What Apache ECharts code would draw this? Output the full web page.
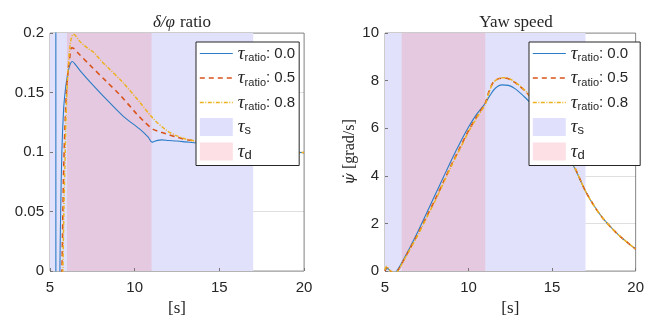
<!DOCTYPE html>
<html><head><meta charset="utf-8">
<script src="https://cdn.jsdelivr.net/npm/echarts@6/dist/echarts.min.js"></script>
<style>html,body{margin:0;padding:0;background:#fff}#c{width:647px;height:322px}</style>
</head><body><div id="c"></div>
<script>
// ---- data: left panel (delta/phi ratio) ----
const ratioT0 = [5.0, 5.2, 5.33, 5.36, 5.45, 5.55, 5.6, 5.63, 5.7, 5.8, 5.89, 6.0, 6.15, 6.32, 6.5, 6.8, 7.36, 8.35, 9.33, 10.32, 10.8, 11.02, 11.15, 11.35, 11.6, 12.0, 12.5, 13.0, 13.5, 14.0, 15.0, 16.0, 17.0, 18.0, 19.0, 20.0];
const ratioV0 = [0.35, 0.6, 2.0, -2.0, -0.3, -0.05, 0.02, 0.05, 0.10, 0.135, 0.15, 0.162, 0.172, 0.176, 0.1735, 0.168, 0.159, 0.144, 0.130, 0.119, 0.1125, 0.1083, 0.1088, 0.1098, 0.1102, 0.1097, 0.1092, 0.1085, 0.1078, 0.107, 0.105, 0.103, 0.1015, 0.1005, 0.1, 0.0995];
const ratioT5 = [5.0, 5.5, 5.65, 5.7, 5.74, 5.8, 5.88, 5.97, 6.08, 6.18, 6.28, 6.4, 6.67, 7.36, 8.35, 9.13, 10.12, 10.6, 11.1, 11.5, 11.9, 12.5, 13.0, 13.5, 14.0, 15.0, 16.0, 17.0, 18.0, 19.0, 20.0];
const ratioV5 = [-0.6, -0.4, -0.08, -0.01, 0.03, 0.08, 0.12, 0.15, 0.17, 0.181, 0.1876, 0.187, 0.183, 0.173, 0.159, 0.148, 0.132, 0.125, 0.119, 0.117, 0.115, 0.1125, 0.1105, 0.1095, 0.108, 0.1055, 0.1035, 0.1015, 0.1005, 0.1, 0.0995];
const ratioT8 = [5.0, 5.55, 5.7, 5.76, 5.82, 5.9, 5.97, 6.05, 6.15, 6.25, 6.38, 6.5, 6.7, 6.97, 7.3, 7.56, 8.0, 8.35, 9.33, 10.32, 11.1, 11.9, 12.5, 13.0, 13.5, 14.0, 15.0, 16.0, 17.0, 18.0, 19.0, 20.0];
const ratioV8 = [-0.6, -0.4, -0.06, 0.0, 0.05, 0.1, 0.14, 0.165, 0.185, 0.195, 0.199, 0.198, 0.194, 0.19, 0.1865, 0.184, 0.177, 0.172, 0.158, 0.1415, 0.128, 0.118, 0.1135, 0.111, 0.1095, 0.108, 0.1055, 0.1035, 0.1015, 0.1005, 0.1, 0.0995];

// ---- data: right panel (yaw speed) ----
const yawT0 = [5.0, 5.15, 5.3, 5.45, 5.6, 5.75, 6.0, 6.5, 7.0, 7.5, 8.0, 8.5, 9.0, 9.5, 10.0, 10.5, 11.0, 11.3, 11.6, 12.0, 12.4, 12.8, 13.4, 14.0, 14.5, 15.0, 15.5, 16.0, 16.4, 17.0, 17.5, 18.0, 18.5, 19.0, 19.5, 20.0];
const yawV0 = [0.05, 0.1, 0.02, -0.08, -0.08, 0.05, 0.35, 1.0, 1.7, 2.45, 3.2, 3.95, 4.7, 5.4, 6.05, 6.6, 7.05, 7.4, 7.68, 7.82, 7.8, 7.65, 7.28, 6.85, 6.4, 5.9, 5.3, 4.75, 4.25, 3.35, 2.75, 2.25, 1.85, 1.5, 1.2, 0.92];
const yawT5 = [5.0, 5.1, 5.25, 5.45, 5.6, 5.8, 6.0, 6.5, 7.0, 7.5, 8.0, 8.5, 9.0, 9.5, 10.0, 10.5, 11.0, 11.2, 11.45, 11.7, 12.0, 12.25, 12.6, 13.0, 13.4, 14.0, 14.5, 15.0, 15.5, 16.0, 16.4, 17.0, 17.5, 18.0, 18.5, 19.0, 19.5, 20.0];
const yawV5 = [0.0, 0.15, 0.05, -0.08, -0.1, 0.05, 0.3, 0.95, 1.6, 2.3, 3.0, 3.75, 4.5, 5.2, 5.9, 6.5, 7.05, 7.5, 7.9, 8.05, 8.1, 8.1, 8.0, 7.8, 7.55, 7.05, 6.55, 6.0, 5.4, 4.8, 4.28, 3.35, 2.75, 2.25, 1.85, 1.5, 1.2, 0.92];
const yawT8 = yawT5;
const yawV8 = [0.05, 0.2, 0.05, -0.05, -0.1, 0.03, 0.28, 0.92, 1.55, 2.25, 2.95, 3.7, 4.45, 5.15, 5.85, 6.45, 7.0, 7.45, 7.88, 8.05, 8.12, 8.12, 8.02, 7.82, 7.57, 7.07, 6.55, 6.0, 5.4, 4.8, 4.28, 3.35, 2.75, 2.25, 1.85, 1.5, 1.2, 0.92];

// ---- shaded intervals and ticks ----
const tauS = [5, 17];
const tauD = [6, 11];
const xTicks = [5, 10, 15, 20];
const ratioTicks = [0, 0.05, 0.1, 0.15, 0.2];
const yawTicks = [0, 2, 4, 6, 8, 10];
const seriesNames = ['r0', 'r5', 'r8'];
const seriesLabels = ['0.0', '0.5', '0.8'];

const zip = (t, v) => t.map((x, i) => [x, v[i]]);

const C_BLUE = '#2a7cc4', C_RED = '#D95319', C_ORG = '#EDB120';
const SHADE_S = '#e1e1fb', SHADE_D = '#e5c9e1';
const LEG_S = '#e0e0fc', LEG_D = '#fde0e5';
const SANS = 'Liberation Sans', SERIF = 'Liberation Serif';
const lineStyles = [
  {color: C_BLUE, width: 1.1, type: 'solid'},
  {color: C_RED, width: 1.6, type: [5, 4]},
  {color: C_ORG, width: 1.5, type: [4, 1.5, 1, 1.5]}
];

function dataSeries(gi, t, v, k) {
  return {
    type: 'line', name: seriesNames[k], xAxisIndex: gi, yAxisIndex: gi,
    data: zip(t, v), showSymbol: false, symbol: 'none', smooth: 0.3, clip: true,
    lineStyle: lineStyles[k], itemStyle: {color: lineStyles[k].color}, z: 2, animation: false
  };
}
function shadeSeries(gi, name, range, color, legColor) {
  return {
    type: 'line', name: name, xAxisIndex: gi, yAxisIndex: gi, data: [], z: 0,
    itemStyle: {color: legColor}, lineStyle: {color: legColor}, animation: false,
    markArea: {silent: true, itemStyle: {color: color, opacity: 1},
      data: [[{xAxis: range[0]}, {xAxis: range[1]}]]}
  };
}

const rich = {
  t: {fontFamily: SERIF, fontStyle: 'italic', fontSize: 19, lineHeight: 20, verticalAlign: 'middle', color: '#262626'},
  s: {fontFamily: SANS, fontSize: 11, lineHeight: 8, verticalAlign: 'bottom', color: '#262626'},
  s2: {fontFamily: SANS, fontSize: 13, lineHeight: 8, verticalAlign: 'bottom', color: '#262626'},
  n: {fontFamily: SANS, fontSize: 15, lineHeight: 20, verticalAlign: 'middle', color: '#262626'}
};
function legFmt(name) {
  const k = seriesNames.indexOf(name);
  if (k >= 0) return '{t|τ}{s|ratio}{n|: ' + seriesLabels[k] + '}';
  if (name === 'ts') return '{t|τ}{s2|s}';
  return '{t|τ}{s2|d}';
}
function legend(left, padding) {
  const lineItem = (k) => ({name: seriesNames[k], icon: 'inherit', itemStyle: {opacity: 0},
    lineStyle: {width: lineStyles[k].width, type: lineStyles[k].type, color: lineStyles[k].color}});
  return {
    left: left, top: 42, orient: 'vertical', itemWidth: 33, itemHeight: 18, itemGap: 5,
    padding: padding, borderColor: '#262626', borderWidth: 1, backgroundColor: '#fff',
    selectedMode: false, z: 10,
    data: [
      lineItem(0), lineItem(1), lineItem(2),
      {name: 'ts', icon: 'rect', itemStyle: {color: LEG_S}},
      {name: 'td', icon: 'rect', itemStyle: {color: LEG_D}}
    ],
    formatter: legFmt, textStyle: {rich: rich}
  };
}
function xAxis(gi) {
  return {
    type: 'value', gridIndex: gi, min: xTicks[0], max: xTicks[xTicks.length - 1], interval: 5, z: 1,
    axisLine: {show: false}, axisTick: {show: true, inside: true, length: 3, lineStyle: {color: '#777'}},
    axisLabel: {fontFamily: SANS, fontSize: 15, color: '#262626', margin: 9},
    splitLine: {show: true, lineStyle: {color: 'rgba(38,38,38,0.15)', width: 1}},
    name: '[s]', nameLocation: 'middle', nameGap: 29,
    nameTextStyle: {fontFamily: SERIF, fontSize: 17, color: '#262626'}
  };
}
function yAxis(gi, ticks, name) {
  const a = {
    type: 'value', gridIndex: gi, min: ticks[0], max: ticks[ticks.length - 1],
    interval: ticks[1] - ticks[0], z: 1,
    axisLine: {show: false}, axisTick: {show: true, inside: true, length: 3, lineStyle: {color: '#777'}},
    axisLabel: {fontFamily: SANS, fontSize: 15, color: '#262626', margin: 6},
    splitLine: {show: true, lineStyle: {color: 'rgba(38,38,38,0.15)', width: 1}}
  };
  if (name) {
    a.name = name; a.nameLocation = 'middle'; a.nameGap = 27;
    a.nameTextStyle = {fontFamily: SERIF, fontSize: 16, color: '#262626',
      rich: {i: {fontFamily: 'DejaVu Serif', fontStyle: 'italic', fontSize: 15, color: '#262626'},
             r: {fontFamily: SERIF, fontSize: 16, color: '#262626'}}};
  }
  return a;
}

const option = {
  animation: false,
  backgroundColor: '#fff',
  title: [
    {text: '{i|δ/φ} {r|ratio}', left: 177, top: 9, textAlign: 'center',
     textStyle: {fontWeight: 'normal', rich: {
       i: {fontFamily: SERIF, fontStyle: 'italic', fontWeight: 'normal', fontSize: 17, color: '#262626'},
       r: {fontFamily: SERIF, fontWeight: 'normal', fontSize: 17, color: '#262626'}}}},
    {text: 'Yaw speed', left: 511, top: 9, textAlign: 'center',
     textStyle: {fontFamily: SERIF, fontSize: 17, fontWeight: 'normal', color: '#262626'}}
  ],
  grid: [
    {left: 50, top: 33, width: 254, height: 241, show: true, borderColor: '#999', borderWidth: 1, z: 1, backgroundColor: 'transparent'},
    {left: 385, top: 33, width: 253, height: 240, show: true, borderColor: '#999', borderWidth: 1, z: 1, backgroundColor: 'transparent'}
  ],
  xAxis: [xAxis(0), xAxis(1)],
  yAxis: [yAxis(0, ratioTicks, null), yAxis(1, yawTicks, '{i|ψ̇}{r| [grad/s]}')],
  legend: [legend(196, [2, 4, 4, 3]), legend(529, [2, 12, 4, 3])],
  series: [
    shadeSeries(0, 'ts', tauS, SHADE_S, LEG_S),
    shadeSeries(0, 'td', tauD, SHADE_D, LEG_D),
    dataSeries(0, ratioT0, ratioV0, 0),
    dataSeries(0, ratioT5, ratioV5, 1),
    dataSeries(0, ratioT8, ratioV8, 2),
    shadeSeries(1, 'ts', tauS, SHADE_S, LEG_S),
    shadeSeries(1, 'td', tauD, SHADE_D, LEG_D),
    dataSeries(1, yawT0, yawV0, 0),
    dataSeries(1, yawT5, yawV5, 1),
    dataSeries(1, yawT8, yawV8, 2)
  ]
};
const chart = echarts.init(document.getElementById('c'), null, {renderer: 'canvas'});
chart.setOption(option);
</script></body></html>
